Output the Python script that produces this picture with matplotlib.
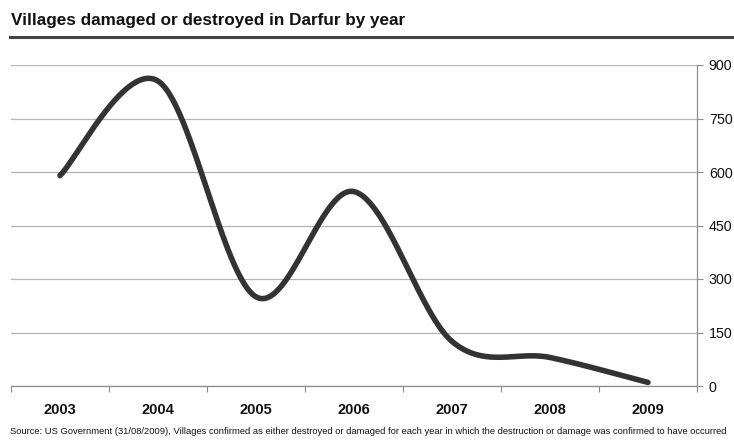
import numpy as np
import matplotlib
matplotlib.use("Agg")
import matplotlib.pyplot as plt
from matplotlib.lines import Line2D

# Villages damaged or destroyed in Darfur, per year
years = ["2003", "2004", "2005", "2006", "2007", "2008", "2009"]
villages = [590, 855, 250, 545, 125, 80, 10]
y_ticks = [0, 150, 300, 450, 600, 750, 900]

title = "Villages damaged or destroyed in Darfur by year"
source = ("Source: US Government (31/08/2009), Villages confirmed as either destroyed or damaged "
          "for each year in which the destruction or damage was confirmed to have occurred")

plt.rcParams["font.family"] = ["Liberation Sans", "DejaVu Sans"]

W, H = 734, 441
fig = plt.figure(figsize=(W / 100, H / 100), dpi=100)
fig.patch.set_facecolor("white")
ax = fig.add_axes([11 / W, 1 - 386 / H, (697 - 11) / W, (386 - 65) / H])


def smooth_curve(xs, ys, n=60):
    """Cardinal (Catmull-Rom) Bezier smoothing through every data point."""
    xs = np.asarray(xs, float)
    ys = np.asarray(ys, float)
    px = np.concatenate([[xs[0]], xs, [xs[-1]]])
    py = np.concatenate([[ys[0]], ys, [ys[-1]]])
    out_x, out_y = [], []
    t = np.linspace(0, 1, n)
    for i in range(len(xs) - 1):
        p0 = np.array([px[i + 1], py[i + 1]])
        p3 = np.array([px[i + 2], py[i + 2]])
        c1 = p0 + (np.array([px[i + 2], py[i + 2]]) - np.array([px[i], py[i]])) / 6
        c2 = p3 - (np.array([px[i + 3], py[i + 3]]) - np.array([px[i + 1], py[i + 1]])) / 6
        b = ((1 - t) ** 3)[:, None] * p0 + (3 * (1 - t) ** 2 * t)[:, None] * c1 \
            + (3 * (1 - t) * t ** 2)[:, None] * c2 + (t ** 3)[:, None] * p3
        out_x.append(b[:, 0])
        out_y.append(b[:, 1])
    return np.concatenate(out_x), np.concatenate(out_y)


x = np.arange(len(years))
sx, sy = smooth_curve(x, villages)
ax.plot(sx, sy, color="#333333", lw=4.0, solid_capstyle="round",
        solid_joinstyle="round", zorder=3)

ax.set_xlim(-0.5, len(years) - 0.5)
ax.set_ylim(0, 900)

# y axis on the right
ax.yaxis.tick_right()
ax.set_yticks(y_ticks)
ax.set_yticklabels([str(v) for v in y_ticks])
ax.tick_params(axis="y", direction="out", length=4, width=0.8, color="#8c8c8c",
               pad=4.5, labelsize=10.3, labelcolor="#111111")
ax.grid(axis="y", color="#b3b3b3", lw=0.9, zorder=0)
ax.set_axisbelow(True)

# category axis: labels centred, tick marks between categories
ax.set_xticks(x)
ax.set_xticklabels(years, fontweight="bold", fontsize=10.5, color="#111111")
ax.set_xticks(np.arange(-0.5, len(years) + 0.5, 1), minor=True)
ax.tick_params(axis="x", which="major", length=0, pad=12)
ax.tick_params(axis="x", which="minor", direction="out", length=4, width=0.8,
               color="#8c8c8c")

for side in ("left", "top"):
    ax.spines[side].set_visible(False)
for side in ("right", "bottom"):
    ax.spines[side].set_color("#8c8c8c")
    ax.spines[side].set_linewidth(0.9)

# title and rule beneath it
t_title = fig.text(11 / W, 1 - 21 / H, title, fontsize=12.5, fontweight="bold",
                   color="#111111", va="center", ha="left")
fig.add_artist(Line2D([10 / W, 1.0], [1 - 37 / H, 1 - 37 / H],
                      transform=fig.transFigure, color="#444444", lw=2.2))

t_src = fig.text(10 / W, 1 - 432 / H, source, fontsize=6.5, color="#111111",
                 va="center", ha="left")

# size the title and the source line to their widths
fig.canvas.draw()
r = fig.canvas.get_renderer()
for txt, target in ((t_title, 394), (t_src, 716)):
    w = txt.get_window_extent(r).width
    txt.set_fontsize(txt.get_fontsize() * target / w)

fig.savefig("out.png", dpi=100, facecolor="white")
